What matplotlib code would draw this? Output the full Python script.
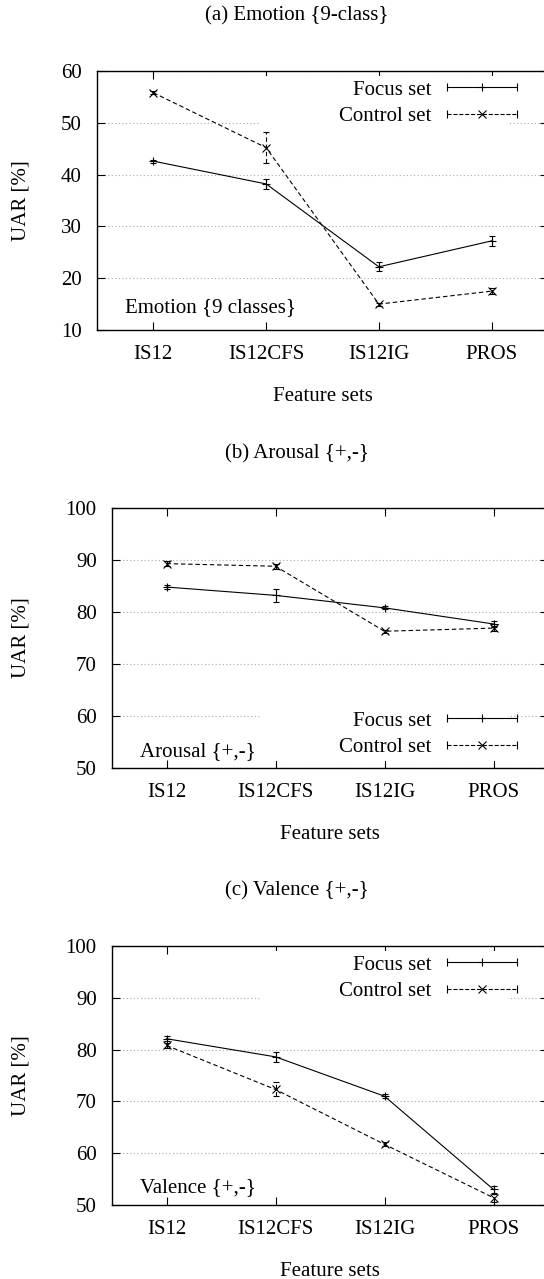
import matplotlib
matplotlib.use("Agg")
import matplotlib.pyplot as plt
from matplotlib.legend_handler import HandlerBase
from matplotlib.lines import Line2D
from matplotlib.patches import Rectangle

features = ["IS12", "IS12CFS", "IS12IG", "PROS"]

emotion_focus = [42.6, 38.2, 22.2, 27.2]
emotion_focus_err = [0.3, 0.95, 0.9, 1.0]
emotion_control = [55.8, 45.2, 15.0, 17.5]
emotion_control_err = [0.3, 3.0, 0.3, 0.6]

arousal_focus = [84.8, 83.2, 80.8, 77.7]
arousal_focus_err = [0.4, 1.25, 0.3, 0.5]
arousal_control = [89.3, 88.8, 76.3, 76.9]
arousal_control_err = [0.5, 0.5, 0.3, 0.5]

valence_focus = [82.1, 78.6, 71.0, 53.0]
valence_focus_err = [0.5, 0.9, 0.4, 0.65]
valence_control = [80.8, 72.3, 61.7, 51.4]
valence_control_err = [0.5, 1.35, 0.4, 0.8]

W, H = 544, 1279

plt.rcParams["font.family"] = ["Liberation Serif", "DejaVu Serif"]
plt.rcParams["font.size"] = 15


class GnuplotKey(HandlerBase):
    """Key sample drawn like gnuplot: |----marker----| with error caps."""

    def create_artists(self, legend, orig, xdescent, ydescent, width, height,
                       fontsize, trans):
        y = height / 2 - ydescent
        x0, x1 = -xdescent, width - xdescent
        line = Line2D([x0, x1], [y, y], color="black", lw=0.8,
                      linestyle=orig.get_linestyle())
        caps = Line2D([x0, x1], [y, y], linestyle="none", marker="|",
                      markersize=6, markeredgewidth=0.8, color="black")
        mark = Line2D([(x0 + x1) / 2], [y], linestyle="none",
                      marker=orig.get_marker(), markersize=orig.get_markersize(),
                      markeredgewidth=0.8, color="black")
        for a in (line, caps, mark):
            a.set_transform(trans)
        return [line, caps, mark]


def px_axes(left, right, top, bottom):
    return [left / W, (H - bottom) / H, (right - left) / W, (bottom - top) / H]


def draw_panel(fig, rect_px, ylim, focus, focus_err, control, control_err,
               note, note_xy, key_anchor, key_box, title, title_y):
    left, right, top, bottom = rect_px
    ax = fig.add_axes(px_axes(left, right, top, bottom))
    x = list(range(len(features)))

    ax.set_axisbelow(True)
    ax.grid(axis="y", color="#a8a8a8", linestyle=(0, (1, 2.2)), linewidth=0.8)

    # opaque key area hides the grid behind it
    bx0, bx1, by0, by1 = key_box
    ax.add_patch(Rectangle(((bx0 - left) / (right - left), (bottom - by1) / (bottom - top)),
                           (bx1 - bx0) / (right - left), (by1 - by0) / (bottom - top),
                           transform=ax.transAxes, facecolor="white",
                           edgecolor="none", zorder=1.5))

    ax.errorbar(x, focus, yerr=focus_err, color="black", lw=0.8,
                marker="+", markersize=6, markeredgewidth=0.8,
                capsize=2.5, elinewidth=0.8, capthick=0.8, zorder=3)
    _, _, bars = ax.errorbar(x, control, yerr=control_err, color="black", lw=0.8,
                             linestyle=(0, (4, 2.5)), marker="x", markersize=6,
                             markeredgewidth=0.8, capsize=2.5, elinewidth=0.8,
                             capthick=0.8, zorder=3)
    for b in bars:
        b.set_linestyle((0, (4, 2.5)))

    ax.set_xlim(-0.5, 3.5)
    ax.set_ylim(*ylim)
    ax.set_yticks(range(ylim[0], ylim[1] + 1, 10))
    ax.set_xticks(x)
    ax.set_xticklabels(features)
    ax.tick_params(direction="in", top=True, right=True, length=6, width=0.8)
    ax.tick_params(axis="y", pad=11)
    ax.tick_params(axis="x", pad=11)
    for s in ax.spines.values():
        s.set_linewidth(1.0)

    ax.set_ylabel("UAR [%]")
    ax.yaxis.set_label_coords((31 - left) / (right - left), 0.5)
    ax.set_xlabel("Feature sets")
    ax.xaxis.set_label_coords(0.5, -57 / (bottom - top))

    ax.text((note_xy[0] - left) / (right - left), (bottom - note_xy[1]) / (bottom - top),
            note, transform=ax.transAxes, ha="left", va="center")

    h_focus = Line2D([], [], color="black", marker="+", markersize=6, linestyle="-")
    h_control = Line2D([], [], color="black", marker="x", markersize=6,
                       linestyle=(0, (4, 2.5)))
    ax.legend([h_focus, h_control], ["Focus set", "Control set"],
              handler_map={Line2D: GnuplotKey()}, loc="center right",
              bbox_to_anchor=((key_anchor[0] - left) / (right - left),
                              (bottom - key_anchor[1]) / (bottom - top)),
              frameon=False, borderpad=0, markerfirst=False,
              handlelength=3.35, handletextpad=0.75, labelspacing=0.32)

    fig.text(297 / W, 1 - title_y / H, title, ha="center", va="center")
    return ax


fig = plt.figure(figsize=(W / 100, H / 100), dpi=100)

draw_panel(fig, (97, 548, 71, 330), (10, 60), emotion_focus, emotion_focus_err,
           emotion_control, emotion_control_err, "Emotion {9 classes}", (125, 308),
           (527, 103), (260, 508, 76, 130), "(a) Emotion {9-class}", 16)
draw_panel(fig, (112, 548, 508, 768), (50, 100), arousal_focus, arousal_focus_err,
           arousal_control, arousal_control_err, "Arousal {+,-}", (140, 752),
           (527, 734), (260, 508, 707, 761), "(b) Arousal {+,-}", 454)
draw_panel(fig, (112, 548, 946, 1205), (50, 100), valence_focus, valence_focus_err,
           valence_control, valence_control_err, "Valence {+,-}", (140, 1188),
           (527, 978), (260, 508, 951, 1005), "(c) Valence {+,-}", 891)

fig.savefig("out.png", dpi=100)
